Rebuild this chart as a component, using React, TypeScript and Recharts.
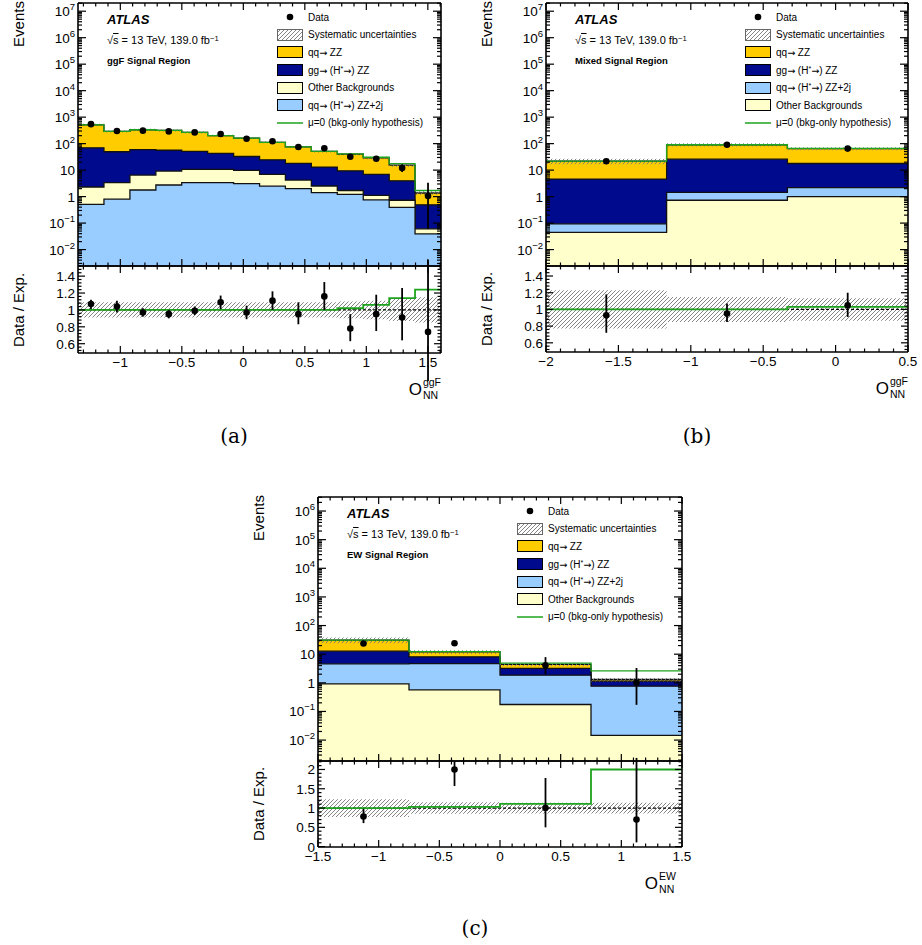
import React from 'react';
import { ComposedChart, Area, Line, Scatter, ErrorBar, XAxis, YAxis, ReferenceLine } from 'recharts';

const FONT = '"Liberation Sans", Arial, Helvetica, sans-serif';

// histogram colours
const C_QQZZ = '#ffcc00';
const C_GGZZ = '#000a8c';
const C_QQ2J = '#99ccff';
const C_OTHER = '#ffffcc';
const C_MU0 = '#1ea31e';

// ---- (a) ggF signal region, 14 bins ----
const ggfEdges = [-1.344, -1.133, -0.922, -0.711, -0.501, -0.29, -0.079, 0.132, 0.342, 0.553, 0.764, 0.975, 1.186, 1.396, 1.607];
const ggfQQZZ = [446, 241, 275, 260, 215, 157, 130, 88, 57, 38, 31, 22, 11.5, 0.88];
const ggfGGZZ = [67, 46, 53, 47, 40, 32, 23, 17.6, 13.8, 10.5, 7.7, 5.8, 3.2, 0.43];
const ggfOther = [1.8, 2.55, 4.7, 6.5, 7.3, 7.3, 6.6, 4.4, 2.2, 1.1, 0.48, 0.37, 0.34, 0.022];
const ggfQQ2j = [0.51, 0.8, 1.78, 2.74, 3.35, 3.35, 3.1, 2.5, 2.0, 1.41, 1.22, 0.75, 0.39, 0.039];
const ggfData = [545, 299, 309, 290, 266, 230, 153, 123, 75, 67, 32, 27, 12, 1.06];
const ggfDataLo = [23, 17, 18, 17, 16, 15, 12, 11, 9, 8, 6, 5, 3.5, 1.0];
const ggfDataHi = [23, 17, 18, 17, 16, 15, 12, 11, 9, 8, 6, 5, 4.5, 2.3];
const ggfRatio = [1.07, 1.04, 0.97, 0.95, 0.99, 1.09, 0.97, 1.11, 0.95, 1.16, 0.78, 0.95, 0.91, 0.74];
const ggfRatioLo = [0.06, 0.07, 0.05, 0.05, 0.05, 0.08, 0.08, 0.11, 0.12, 0.16, 0.15, 0.2, 0.27, 0.7];
const ggfRatioHi = [0.05, 0.07, 0.05, 0.05, 0.05, 0.08, 0.08, 0.11, 0.14, 0.17, 0.17, 0.23, 0.35, 2.3];
const ggfSyst = [0.09, 0.09, 0.09, 0.09, 0.09, 0.09, 0.09, 0.09, 0.09, 0.09, 0.1, 0.11, 0.13, 0.15];
const ggfMu0 = [1, 1, 1, 1, 1, 1, 1, 1, 1, 1, 1.02, 1.06, 1.14, 1.24];
const ggfXTicks = [-1, -0.5, 0, 0.5, 1, 1.5];

// ---- (b) mixed signal region, 3 bins ----
const mixEdges = [-2, -1.167, -0.333, 0.5];
const mixQQZZ = [17.1, 65, 47];
const mixGGZZ = [4.5, 24.4, 15.6];
const mixQQ2j = [0.049, 0.72, 1.2];
const mixOther = [0.045, 0.73, 1.0];
const mixData = [21.7, 91, 65];
const mixDataLo = [4.6, 9.5, 8];
const mixDataHi = [5.7, 10.5, 9];
const mixRatio = [0.93, 0.95, 1.05];
const mixRatioLo = [0.21, 0.1, 0.14];
const mixRatioHi = [0.25, 0.12, 0.15];
const mixSyst = [0.23, 0.15, 0.135];
const mixMu0 = [1, 1, 1.03];
const mixXTicks = [-2, -1.5, -1, -0.5, 0, 0.5];

// ---- (c) EW signal region, 4 bins ----
const ewEdges = [-1.5, -0.75, 0, 0.75, 1.5];
const ewQQZZ = [18.3, 3.9, 1.2, 0.16];
const ewGGZZ = [8.1, 3.4, 1.35, 0.38];
const ewQQ2j = [3.7, 4.1, 1.68, 0.75];
const ewOther = [0.92, 0.57, 0.175, 0.0145];
const ewData = [23.6, 24, 4.1, 1.0];
const ewDataLo = [4.5, 4.5, 2.1, 0.83];
const ewDataHi = [5.5, 5.5, 3.8, 2.3];
const ewRatio = [0.78, 2.0, 1.0, 0.7];
const ewRatioLo = [0.17, 0.43, 0.5, 0.59];
const ewRatioHi = [0.2, 0.2, 0.78, 1.6];
const ewSyst = [0.23, 0.15, 0.14, 0.14];
const ewMu0 = [1.0, 1.03, 1.11, 2.0];
const ewXTicks = [-1.5, -1, -0.5, 0, 0.5, 1, 1.5];

const abRatioTicks = [0.6, 0.8, 1, 1.2, 1.4];
const cRatioTicks = [0, 0.5, 1, 1.5, 2];

type Frame = { L: number; T: number; R: number; B: number };
type Comp = { values: number[]; color: string };

const PAD = 6;
const RPAD = 16;
const YW = 60;
const XH = 28;

function buildRows(edges: number[], comps: Comp[], syst: number[], mu0: number[]) {
  const n = edges.length - 1;
  return edges.map((x, i) => {
    const b = Math.min(i, n - 1);
    const row: any = { x };
    let sum = 0;
    comps.forEach((c, k) => {
      sum += c.values[b];
      row['s' + k] = sum;
    });
    row.band = [sum * (1 - syst[b]), sum * (1 + syst[b])];
    row.mu0 = sum * mu0[b];
    row.rband = [1 - syst[b], 1 + syst[b]];
    row.rmu0 = mu0[b];
    return row;
  });
}

function buildPoints(edges: number[], vals: number[], lo: number[], hi: number[]) {
  return vals.map((y, i) => ({ x: (edges[i] + edges[i + 1]) / 2, y, err: [lo[i], hi[i]] }));
}

function stepTicks(lo: number, hi: number, step: number) {
  const out: number[] = [];
  for (let i = Math.ceil(lo / step - 1e-9); i * step <= hi + 1e-9; i++) out.push(Math.round(i * step * 1000) / 1000);
  return out;
}

function logTicks(lo: number, hi: number) {
  const major: number[] = [];
  const minor: number[] = [];
  for (let d = Math.floor(Math.log10(lo)); d <= Math.ceil(Math.log10(hi)); d++) {
    const p = Math.pow(10, d);
    if (p >= lo && p <= hi) major.push(p);
    for (let k = 2; k <= 9; k++) {
      const v = Number((k * p).toPrecision(6));
      if (v >= lo && v <= hi) minor.push(v);
    }
  }
  return { major, minor };
}

const fmtNum = (v: number): React.ReactNode => {
  const r = Math.round(v * 100) / 100;
  return (r < 0 ? '\u2212' : '') + Math.abs(r);
};

const fmtLog = (v: number): React.ReactNode => {
  const e = Math.round(Math.log10(v));
  if (e === 0) return '1';
  if (e === 1) return '10';
  return (
    <>
      10<tspan dy={-6} fontSize={9.5}>{e < 0 ? '\u2212' + -e : String(e)}</tspan>
    </>
  );
};

// axis label drawn just outside the frame
function mkLabel(side: 'left' | 'bottom', fmt: (v: number) => React.ReactNode) {
  return (props: any) => {
    const { x, y, payload } = props;
    const txt = { fontSize: 13.5, fill: '#000', fontFamily: FONT };
    return side === 'left' ? (
      <text x={x - 3} y={y} dy={5} textAnchor="end" {...txt}>{fmt(payload.value)}</text>
    ) : (
      <text x={x} y={y + 14} textAnchor="middle" {...txt}>{fmt(payload.value)}</text>
    );
  };
}

const Dot = (p: any) => <circle cx={p.cx} cy={p.cy} r={3.3} fill="#000" />;

type AxesOpts = {
  xDomain: number[];
  xMajor: number[];
  yDomain: number[];
  yMajor: number[];
  log: boolean;
  xLabels: boolean;
};

// axes carry the labels; the frame is four reference lines on the domain edges
function frameAxes(o: AxesOpts) {
  const [x0, x1] = o.xDomain;
  const [y0, y1] = o.yDomain;
  const common = {
    type: 'number' as const, allowDataOverflow: true, interval: 0 as const,
    tickLine: false, axisLine: false, tickSize: 0, tickMargin: 0,
  };
  const fr = { stroke: '#000', strokeWidth: 1.6, ifOverflow: 'visible' as const, xAxisId: 'x', yAxisId: 'y' };
  return [
    <XAxis key="xb" xAxisId="x" dataKey="x" orientation="bottom" {...common} domain={o.xDomain}
      ticks={o.xMajor} height={o.xLabels ? XH : 0} tick={o.xLabels ? mkLabel('bottom', fmtNum) : false} />,
    <YAxis key="yl" yAxisId="y" orientation="left" {...common} scale={o.log ? 'log' : 'linear'} domain={o.yDomain}
      ticks={o.yMajor} width={YW} tick={mkLabel('left', o.log ? fmtLog : fmtNum)} />,
    <ReferenceLine key="fl" {...fr} x={x0} />,
    <ReferenceLine key="fr" {...fr} x={x1} />,
    <ReferenceLine key="fb" {...fr} y={y0} />,
    <ReferenceLine key="ft" {...fr} y={y1} />,
  ];
}

// ROOT-style inward tick marks on all four sides of a pad
function TickMarks(p: { f: Frame; xDomain: number[]; xMajor: number[]; yDomain: number[]; yMajor: number[]; yMinor: number[]; log: boolean }) {
  const { f } = p;
  const w = f.R - f.L;
  const h = f.B - f.T;
  const [x0, x1] = p.xDomain;
  const [y0, y1] = p.yDomain;
  const sx = (v: number) => ((v - x0) / (x1 - x0)) * w;
  const sy = (v: number) =>
    p.log ? h - (Math.log(v / y0) / Math.log(y1 / y0)) * h : h - ((v - y0) / (y1 - y0)) * h;
  const xMinor = stepTicks(x0, x1, 0.1).filter((v) => !p.xMajor.includes(v));
  const yMaj = p.log ? 8 : 7;
  const yMin = p.log ? 4 : 3.5;
  const xs: [number, number][] = [...p.xMajor.map((v) => [v, 7] as [number, number]), ...xMinor.map((v) => [v, 3.5] as [number, number])];
  const ysTicks: [number, number][] = [...p.yMajor.map((v) => [v, yMaj] as [number, number]), ...p.yMinor.map((v) => [v, yMin] as [number, number])];
  return (
    <svg width={w} height={h} style={{ position: 'absolute', left: f.L, top: f.T, overflow: 'visible' }}>
      <g stroke="#000" strokeWidth={1.2}>
        {xs.map(([v, len], i) => (
          <g key={'x' + i}>
            <line x1={sx(v)} x2={sx(v)} y1={h} y2={h - len} />
            <line x1={sx(v)} x2={sx(v)} y1={0} y2={len} />
          </g>
        ))}
        {ysTicks.map(([v, len], i) => (
          <g key={'y' + i}>
            <line x1={0} x2={len} y1={sy(v)} y2={sy(v)} />
            <line x1={w} x2={w - len} y1={sy(v)} y2={sy(v)} />
          </g>
        ))}
      </g>
    </svg>
  );
}

function MainPad(p: { f: Frame; xDomain: number[]; xMajor: number[]; yDomain: number[]; rows: any[]; comps: Comp[]; points: any[] }) {
  const { f } = p;
  const w = f.R - f.L;
  const h = f.B - f.T;
  const lt = logTicks(p.yDomain[0], p.yDomain[1]);
  const order = p.comps.map((_, k) => k).reverse();
  return (
    <>
      <div style={{ position: 'absolute', left: f.L - YW, top: f.T - PAD }}>
        <ComposedChart width={w + YW + RPAD} height={h + 2 * PAD} data={p.rows}
          margin={{ top: PAD, right: RPAD, bottom: PAD, left: 0 }}>
          {order.map((k) => (
            <Area key={'s' + k} xAxisId="x" yAxisId="y" dataKey={'s' + k} type="stepAfter"
              fill={p.comps[k].color} fillOpacity={1} stroke="#111" strokeWidth={1.3}
              baseValue="dataMin" dot={false} activeDot={false} isAnimationActive={false} />
          ))}
          <Area xAxisId="x" yAxisId="y" dataKey="band" type="stepAfter" fill="url(#hatch)" fillOpacity={1}
            stroke="none" dot={false} activeDot={false} isAnimationActive={false} />
          <Line xAxisId="x" yAxisId="y" dataKey="mu0" type="stepAfter" stroke={C_MU0} strokeWidth={1.3}
            dot={false} activeDot={false} isAnimationActive={false} />
          <Scatter xAxisId="x" yAxisId="y" data={p.points} dataKey="y" shape={Dot} isAnimationActive={false}>
            <ErrorBar dataKey="err" direction="y" width={0} stroke="#000" strokeWidth={1.8} />
          </Scatter>
          {frameAxes({ xDomain: p.xDomain, xMajor: p.xMajor, yDomain: p.yDomain, yMajor: lt.major, log: true, xLabels: false })}
        </ComposedChart>
      </div>
      <TickMarks f={f} xDomain={p.xDomain} xMajor={p.xMajor} yDomain={p.yDomain} yMajor={lt.major} yMinor={lt.minor} log />
    </>
  );
}

function RatioPad(p: { f: Frame; xDomain: number[]; xMajor: number[]; yDomain: number[]; yMajor: number[]; yStep: number; rows: any[]; points: any[] }) {
  const { f } = p;
  const w = f.R - f.L;
  const h = f.B - f.T;
  const yMinor = stepTicks(p.yDomain[0], p.yDomain[1], p.yStep).filter((v) => !p.yMajor.includes(v));
  return (
    <>
      <div style={{ position: 'absolute', left: f.L - YW, top: f.T - PAD }}>
        <ComposedChart width={w + YW + RPAD} height={h + PAD + XH} data={p.rows}
          margin={{ top: PAD, right: RPAD, bottom: 0, left: 0 }}>
          <Area xAxisId="x" yAxisId="y" dataKey="rband" type="stepAfter" fill="url(#hatch)" fillOpacity={1}
            stroke="none" dot={false} activeDot={false} isAnimationActive={false} />
          <ReferenceLine xAxisId="x" yAxisId="y" y={1} stroke="#000" strokeWidth={1.2} strokeDasharray="3 2" />
          <Line xAxisId="x" yAxisId="y" dataKey="rmu0" type="stepAfter" stroke={C_MU0} strokeWidth={1.8}
            dot={false} activeDot={false} isAnimationActive={false} />
          <Scatter xAxisId="x" yAxisId="y" data={p.points} dataKey="y" shape={Dot} isAnimationActive={false}>
            <ErrorBar dataKey="err" direction="y" width={0} stroke="#000" strokeWidth={1.8} />
          </Scatter>
          {frameAxes({ xDomain: p.xDomain, xMajor: p.xMajor, yDomain: p.yDomain, yMajor: p.yMajor, log: false, xLabels: true })}
        </ComposedChart>
      </div>
      <TickMarks f={f} xDomain={p.xDomain} xMajor={p.xMajor} yDomain={p.yDomain} yMajor={p.yMajor} yMinor={yMinor} log={false} />
    </>
  );
}

const Sup = ({ children }: { children: React.ReactNode }) => (
  <span style={{ fontSize: '0.7em', verticalAlign: '0.45em' }}>{children}</span>
);

const Arr = () => <span style={{ fontFamily: '"DejaVu Sans", sans-serif', fontSize: '0.95em' }}>→</span>;

function Txt(p: { x: number; cy: number; size: number; bold?: boolean; italic?: boolean; children: React.ReactNode }) {
  return (
    <div style={{
      position: 'absolute', left: p.x, top: p.cy - p.size / 2, fontSize: p.size, lineHeight: 1,
      fontWeight: p.bold ? 'bold' : 'normal', fontStyle: p.italic ? 'italic' : 'normal', whiteSpace: 'nowrap',
    }}>
      {p.children}
    </div>
  );
}

function VTitle(p: { cx: number; cy: number; children: React.ReactNode }) {
  return (
    <div style={{
      position: 'absolute', left: p.cx, top: p.cy, fontSize: 15, lineHeight: 1, whiteSpace: 'nowrap',
      transform: 'translate(-50%, -50%) rotate(-90deg)',
    }}>
      {p.children}
    </div>
  );
}

function XTitle(p: { right: number; cy: number; sup: string }) {
  return (
    <div style={{ position: 'absolute', right: 922 - p.right, top: p.cy - 13, height: 26, display: 'flex', alignItems: 'center' }}>
      <span style={{ fontSize: 17, lineHeight: 1 }}>O</span>
      <span style={{ display: 'flex', flexDirection: 'column', fontSize: 10.5, lineHeight: '13px', marginLeft: 1 }}>
        <span>{p.sup}</span>
        <span>NN</span>
      </span>
    </div>
  );
}

type KeyItem = { kind: 'dot' | 'hatch' | 'box' | 'line'; color?: string; label: React.ReactNode };

function KeyBox(p: { left: number; top: number; items: KeyItem[] }) {
  return (
    <div style={{ position: 'absolute', left: p.left, top: p.top }}>
      {p.items.map((it, i) => (
        <div key={i} style={{
          position: 'absolute', left: 0, top: i * 17.6, height: 17.6, display: 'flex', alignItems: 'center',
          whiteSpace: 'nowrap', fontSize: 10,
        }}>
          <svg width={26} height={12} style={{ marginRight: 5, flex: 'none' }}>
            {it.kind === 'dot' && <circle cx={13} cy={6} r={3.3} fill="#000" />}
            {it.kind === 'hatch' && <rect x={0.5} y={0.5} width={25} height={11} fill="url(#hatch)" stroke="#666" />}
            {it.kind === 'box' && <rect x={0.5} y={0.5} width={25} height={11} fill={it.color} stroke="#000" />}
            {it.kind === 'line' && <line x1={0} x2={26} y1={6} y2={6} stroke={it.color} strokeWidth={1.5} />}
          </svg>
          <span>{it.label}</span>
        </div>
      ))}
    </div>
  );
}

const keyData: KeyItem = { kind: 'dot', label: 'Data' };
const keySyst: KeyItem = { kind: 'hatch', label: 'Systematic uncertainties' };
const keyQQZZ: KeyItem = { kind: 'box', color: C_QQZZ, label: <>qq<Arr /> ZZ</> };
const keyGGZZ: KeyItem = { kind: 'box', color: C_GGZZ, label: <>gg<Arr /> (H<Sup>*</Sup><Arr />) ZZ</> };
const keyOther: KeyItem = { kind: 'box', color: C_OTHER, label: 'Other Backgrounds' };
const keyQQ2j: KeyItem = { kind: 'box', color: C_QQ2J, label: <>qq<Arr /> (H<Sup>*</Sup><Arr />) ZZ+2j</> };
const keyMu0: KeyItem = { kind: 'line', color: C_MU0, label: 'μ=0 (bkg-only hypothesis)' };

type PanelProps = {
  main: Frame; ratio: Frame; xDomain: number[]; xMajor: number[]; mainY: number[];
  ratioY: number[]; ratioTicks: number[]; ratioStep: number;
  edges: number[]; comps: Comp[]; data: number[]; dataLo: number[]; dataHi: number[];
  ratioVals: number[]; ratioLo: number[]; ratioHi: number[]; syst: number[]; mu0: number[];
  region: string; keys: KeyItem[]; xSup: string; xRight: number; caption: string; capX: number; capY: number;
};

function Panel(p: PanelProps) {
  const rows = buildRows(p.edges, p.comps, p.syst, p.mu0);
  const pts = buildPoints(p.edges, p.data, p.dataLo, p.dataHi);
  const rpts = buildPoints(p.edges, p.ratioVals, p.ratioLo, p.ratioHi);
  const m = p.main;
  const r = p.ratio;
  return (
    <>
      <MainPad f={m} xDomain={p.xDomain} xMajor={p.xMajor} yDomain={p.mainY} rows={rows} comps={p.comps} points={pts} />
      <RatioPad f={r} xDomain={p.xDomain} xMajor={p.xMajor} yDomain={p.ratioY} yMajor={p.ratioTicks}
        yStep={p.ratioStep} rows={rows} points={rpts} />
      <Txt x={m.L + 29} cy={m.T + 16.5} size={13} bold italic>ATLAS</Txt>
      <Txt x={m.L + 29} cy={m.T + 37} size={11}>
        √<span style={{ textDecoration: 'overline' }}>s</span> = 13 TeV, 139.0 fb<Sup>−1</Sup>
      </Txt>
      <Txt x={m.L + 29} cy={m.T + 57.5} size={9.5} bold>{p.region}</Txt>
      <KeyBox left={m.L + 199} top={m.T + 5.5} items={p.keys} />
      <VTitle cx={m.L - 60} cy={m.T + 20.5}>Events</VTitle>
      <VTitle cx={r.L - 60} cy={(r.T + r.B) / 2}>Data / Exp.</VTitle>
      <XTitle right={p.xRight} cy={r.B + 36} sup={p.xSup} />
      <div style={{
        position: 'absolute', left: p.capX, top: p.capY, transform: 'translate(-50%, -50%)',
        fontFamily: '"DejaVu Serif", "Liberation Serif", serif', fontSize: 20, lineHeight: 1,
      }}>
        {p.caption}
      </div>
    </>
  );
}

export default function App() {
  return (
    <div style={{
      position: 'absolute', left: 0, top: 0, width: 922, height: 945, background: '#fff',
      fontFamily: FONT, color: '#000', overflow: 'hidden',
    }}>
      <svg width={0} height={0} style={{ position: 'absolute' }}>
        <defs>
          <pattern id="hatch" patternUnits="userSpaceOnUse" width={4} height={4}>
            <path d="M-1,1 l2,-2 M0,4 l4,-4 M3,5 l2,-2" stroke="#777" strokeWidth={0.9} />
          </pattern>
        </defs>
      </svg>

      <Panel
        main={{ L: 78, T: 3, R: 441, B: 266 }} ratio={{ L: 78, T: 266, R: 441, B: 353 }}
        xDomain={[ggfEdges[0], ggfEdges[ggfEdges.length - 1]]} xMajor={ggfXTicks}
        mainY={[0.0024, 2.04e7]} ratioY={[0.49, 1.52]} ratioTicks={abRatioTicks} ratioStep={0.04}
        edges={ggfEdges}
        comps={[
          { values: ggfQQ2j, color: C_QQ2J },
          { values: ggfOther, color: C_OTHER },
          { values: ggfGGZZ, color: C_GGZZ },
          { values: ggfQQZZ, color: C_QQZZ },
        ]}
        data={ggfData} dataLo={ggfDataLo} dataHi={ggfDataHi}
        ratioVals={ggfRatio} ratioLo={ggfRatioLo} ratioHi={ggfRatioHi} syst={ggfSyst} mu0={ggfMu0}
        region="ggF Signal Region" keys={[keyData, keySyst, keyQQZZ, keyGGZZ, keyOther, keyQQ2j, keyMu0]}
        xSup="ggF" xRight={441} caption="(a)" capX={234} capY={436}
      />

      <Panel
        main={{ L: 546, T: 3, R: 908, B: 266 }} ratio={{ L: 546, T: 266, R: 908, B: 352 }}
        xDomain={[mixEdges[0], mixEdges[mixEdges.length - 1]]} xMajor={mixXTicks}
        mainY={[0.0024, 2.04e7]} ratioY={[0.49, 1.52]} ratioTicks={abRatioTicks} ratioStep={0.04}
        edges={mixEdges}
        comps={[
          { values: mixOther, color: C_OTHER },
          { values: mixQQ2j, color: C_QQ2J },
          { values: mixGGZZ, color: C_GGZZ },
          { values: mixQQZZ, color: C_QQZZ },
        ]}
        data={mixData} dataLo={mixDataLo} dataHi={mixDataHi}
        ratioVals={mixRatio} ratioLo={mixRatioLo} ratioHi={mixRatioHi} syst={mixSyst} mu0={mixMu0}
        region="Mixed Signal Region" keys={[keyData, keySyst, keyQQZZ, keyGGZZ, keyQQ2j, keyOther, keyMu0]}
        xSup="ggF" xRight={908} caption="(b)" capX={697} capY={436}
      />

      <Panel
        main={{ L: 318, T: 497, R: 682, B: 761 }} ratio={{ L: 318, T: 761, R: 682, B: 847 }}
        xDomain={[ewEdges[0], ewEdges[ewEdges.length - 1]]} xMajor={ewXTicks}
        mainY={[0.00186, 3.09e6]} ratioY={[-0.01, 2.22]} ratioTicks={cRatioTicks} ratioStep={0.1}
        edges={ewEdges}
        comps={[
          { values: ewOther, color: C_OTHER },
          { values: ewQQ2j, color: C_QQ2J },
          { values: ewGGZZ, color: C_GGZZ },
          { values: ewQQZZ, color: C_QQZZ },
        ]}
        data={ewData} dataLo={ewDataLo} dataHi={ewDataHi}
        ratioVals={ewRatio} ratioLo={ewRatioLo} ratioHi={ewRatioHi} syst={ewSyst} mu0={ewMu0}
        region="EW Signal Region" keys={[keyData, keySyst, keyQQZZ, keyGGZZ, keyQQ2j, keyOther, keyMu0]}
        xSup="EW" xRight={676} caption="(c)" capX={475} capY={928}
      />
    </div>
  );
}
